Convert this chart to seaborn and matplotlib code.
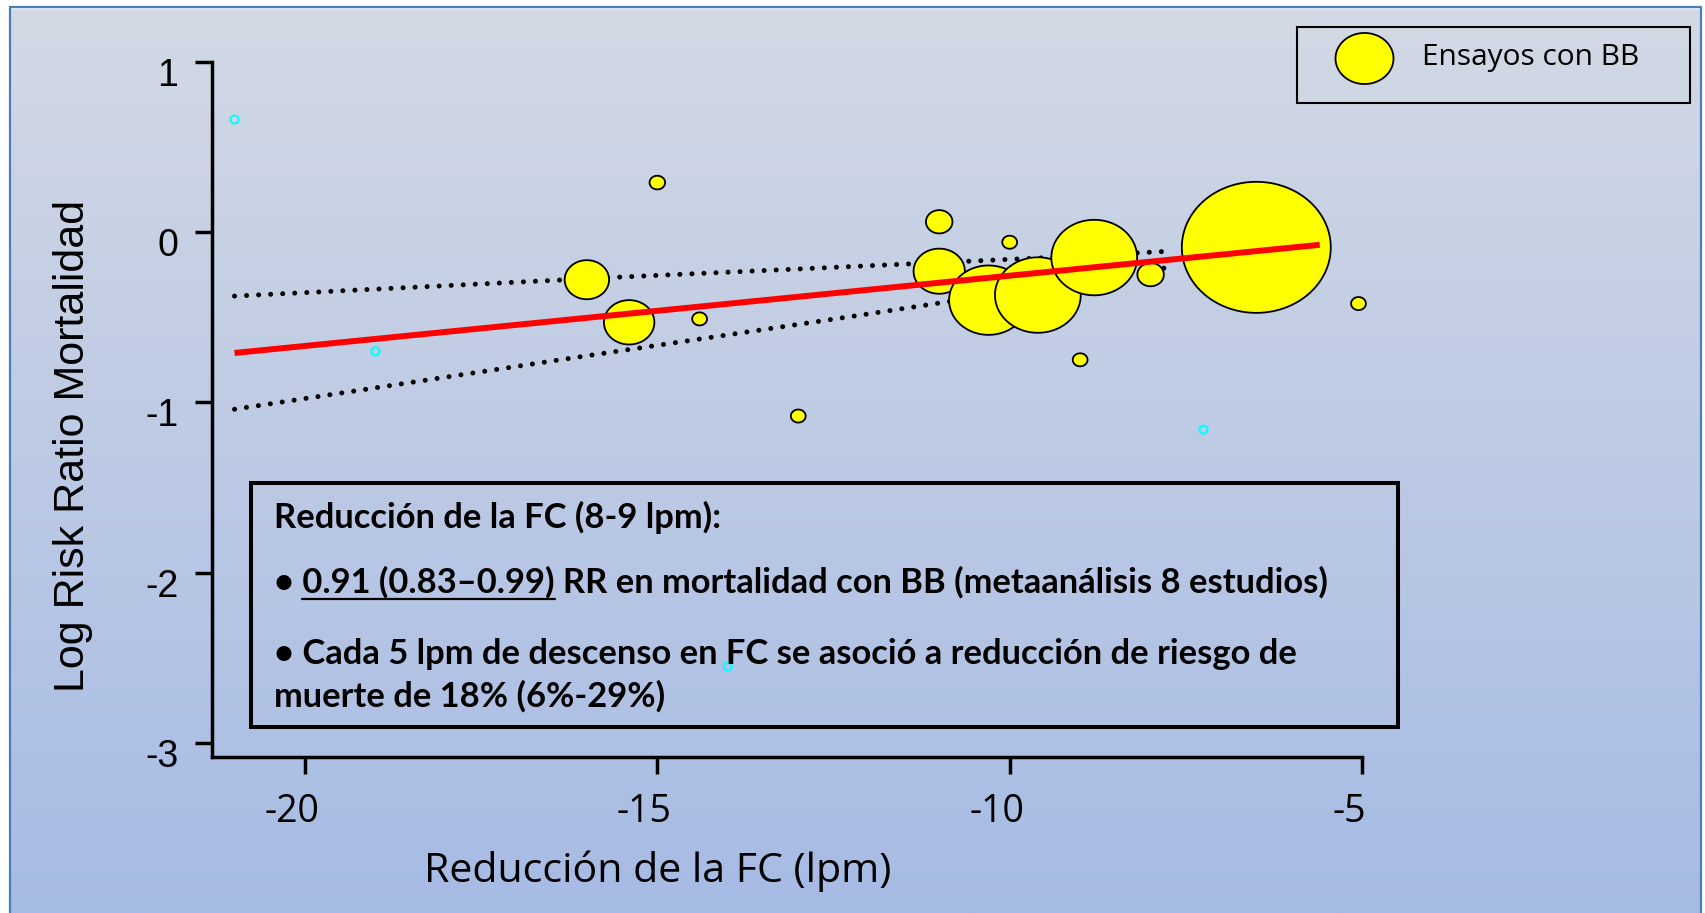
import numpy as np
import pandas as pd
import matplotlib
matplotlib.use("Agg")
import matplotlib.pyplot as plt
import seaborn as sns
from matplotlib.path import Path
from matplotlib.markers import MarkerStyle
from matplotlib.patches import Rectangle
from matplotlib.lines import Line2D
import matplotlib.transforms as mtransforms

# ---------------- data ----------------
reduccion_fc = [-16.0, -15.4, -15.0, -14.4, -13.0, -11.0, -11.0, -10.3, -10.0,
                -9.6, -9.0, -8.8, -8.0, -6.5, -5.05]
log_rr = [-0.28, -0.53, 0.29, -0.51, -1.08, 0.06, -0.23, -0.40, -0.06,
          -0.37, -0.75, -0.15, -0.25, -0.09, -0.42]
peso = [9.0, 11.6, 1.1, 1.0, 1.0, 3.2, 12.0, 28.4, 1.0,
        33.6, 1.0, 33.6, 3.2, 101.3, 1.0]

reg_x = [-21.0, -5.6]
reg_y = [-0.71, -0.075]

ic_sup_x = [-21.0, -15.5, -12.1, -9.6, -7.7]
ic_sup_y = [-0.376, -0.264, -0.200, -0.153, -0.112]
ic_inf_x = [-21.0, -16.3, -12.2, -11.0, -7.7]
ic_inf_y = [-1.04, -0.745, -0.493, -0.417, -0.205]

otros_x = [-21.0, -19.0, -14.0, -7.25]
otros_y = [0.66, -0.70, -2.55, -1.16]

xticks = [-20, -15, -10, -5]
xtick_labels = ["-20", "-15", "-10", "-5"]
yticks = [1, 0, -1, -2, -3]
ytick_labels = ["1", "0", "-1", "-2", "-3"]

x_label = "Reducción de la FC (lpm)"
y_label = "Log Risk Ratio Mortalidad"
legend_label = "Ensayos con BB"
box_lines = [
    "Reducción de la FC (8-9 lpm):",
    "• 0.91 (0.83–0.99) RR en mortalidad con BB (metaanálisis 8 estudios)",
    "• Cada 5 lpm de descenso en FC se asoció a reducción de riesgo de",
    "muerte de 18% (6%-29%)",
]
underlined = "0.91 (0.83–0.99)"

# ---------------- layout ----------------
W, H, DPI = 1706, 913, 100
sns.set_style("ticks")
plt.rcParams["font.family"] = ["Lato", "DejaVu Sans"]
plt.rcParams["axes.unicode_minus"] = False
ARIAL = ["Liberation Sans", "DejaVu Sans"]
OPEN = ["Open Sans", "DejaVu Sans"]

fig = plt.figure(figsize=(W / DPI, H / DPI), dpi=DPI)
fig.patch.set_facecolor("white")


def xpx(v):
    return 305 + (v + 20) * (1057 / 15)


def ypx(v):
    return 232 - v * 170.4


def fx(px):
    return px / W


def fy(py):
    return 1 - py / H


# background gradient + frame
bg = fig.add_axes([0, 0, 1, 1], zorder=-10)
bg.set_xlim(0, W)
bg.set_ylim(H, 0)
bg.axis("off")
top_c = np.array([211, 217, 229]) / 255
bot_c = np.array([166, 187, 228]) / 255
g = np.linspace(0, 1, 256)[:, None, None]
img = top_c[None, None, :] + (bot_c - top_c)[None, None, :] * g
bg.imshow(img, extent=(10, 1701, H, 7), aspect="auto", interpolation="bilinear")
frame_c = "#4a7ebb"
bg.plot([10, 10], [H, 7], color=frame_c, lw=1.6)
bg.plot([10, 1701], [7, 7], color=frame_c, lw=1.6)
bg.plot([1701, 1701], [7, H], color=frame_c, lw=1.6)
bg.plot([12, 1699], [9.5, 9.5], color="#e2e7f0", lw=1.2)

xlim = (-21.32, -3.5)
ylim = (-3.08, 1.2)
left = fx(xpx(xlim[0]))
right = fx(xpx(xlim[1]))
top = fy(ypx(ylim[1]))
bottom = fy(ypx(ylim[0]))
ax = fig.add_axes([left, bottom, right - left, top - bottom])
ax.set_facecolor("none")
ax.set_xlim(*xlim)
ax.set_ylim(*ylim)

# confidence band (dotted), under bubbles
dotted = (0, (0.01, 2.4))
sns.lineplot(x=ic_sup_x, y=ic_sup_y, color="black", linewidth=3.6,
             linestyle=dotted, dash_capstyle="round", zorder=2, ax=ax)
sns.lineplot(x=ic_inf_x, y=ic_inf_y, color="black", linewidth=3.6,
             linestyle=dotted, dash_capstyle="round", zorder=2, ax=ax)

# elliptical bubble marker
t = np.linspace(0, 2 * np.pi, 100)
ell_verts = np.column_stack([np.cos(t), 0.88 * np.sin(t)])
ell_codes = [Path.MOVETO] + [Path.LINETO] * 98 + [Path.CLOSEPOLY]
ellipse = MarkerStyle(Path(ell_verts, ell_codes))

df = pd.DataFrame({"reduccion_fc": reduccion_fc, "log_rr": log_rr, "peso": peso})
k = (14.8 * 72 / DPI) ** 2
wmax = max(peso)
sns.scatterplot(data=df, x="reduccion_fc", y="log_rr", size="peso",
                sizes=(0, k * wmax), size_norm=(0, wmax), marker=ellipse,
                color="#FFFF00", edgecolor="black", linewidth=1.3,
                legend=False, zorder=3, ax=ax, clip_on=False)

# regression line on top
sns.lineplot(x=reg_x, y=reg_y, color="#FF0000", linewidth=4.3,
             solid_capstyle="butt", zorder=4, ax=ax)

# small cyan markers
sns.scatterplot(x=otros_x, y=otros_y, s=34, color="#00FFFF", facecolor="none",
                edgecolor="#00FFFF", linewidth=1.5, zorder=5, ax=ax, legend=False)

# axes styling
ax.spines[["top", "right"]].set_visible(False)
for s in ["left", "bottom"]:
    ax.spines[s].set_linewidth(2.5)
    ax.spines[s].set_color("black")
ax.spines["left"].set_bounds(ylim[0], 1)
ax.spines["bottom"].set_bounds(xlim[0], -5)
ax.set_xticks(xticks, xtick_labels)
ax.set_yticks(yticks, ytick_labels)
ax.tick_params(axis="both", length=12.2, width=2.5, color="black",
               direction="out", labelcolor="black")
ax.tick_params(axis="y", labelsize=27, pad=12)
ax.tick_params(axis="x", labelsize=27, pad=14)
for lbl in ax.get_yticklabels():
    lbl.set_fontfamily(ARIAL)
    lbl.set_transform(lbl.get_transform() +
                      mtransforms.ScaledTranslation(0, -10 / DPI, fig.dpi_scale_trans))
for lbl in ax.get_xticklabels():
    lbl.set_fontfamily(OPEN)
    lbl.set_transform(lbl.get_transform() +
                      mtransforms.ScaledTranslation(-13 / DPI, 0, fig.dpi_scale_trans))

ax_w = xpx(xlim[1]) - xpx(xlim[0])
ax_h = ypx(ylim[0]) - ypx(ylim[1])
ax.set_xlabel(x_label, fontsize=29, color="black", fontfamily=OPEN)
ax.xaxis.set_label_coords((658 - xpx(xlim[0])) / ax_w, (ypx(ylim[0]) - 850) / ax_h)
ax.set_ylabel(y_label, fontsize=31, color="black", fontfamily=ARIAL)
ax.yaxis.label.set_va("center")
ax.yaxis.set_label_coords(-(xpx(xlim[0]) - 73) / ax_w, (ypx(ylim[0]) - 446) / ax_h)

# ---------------- annotation box ----------------
fig.add_artist(Rectangle((fx(251), fy(727)), fx(1398) - fx(251), fy(483) - fy(727),
                         transform=fig.transFigure, fill=False, edgecolor="black",
                         linewidth=2.9, zorder=6))
x0 = 274
baselines = [528, 593, 664, 707]
targets = [444, 1062, 1019, 384]
texts = []
for line, b in zip(box_lines, baselines):
    texts.append(fig.text(fx(x0), fy(b), line, fontsize=20, fontweight="bold",
                          va="baseline", ha="left", color="black", zorder=7))

# legend
fig.add_artist(Rectangle((fx(1297), fy(103)), fx(1690) - fx(1297), fy(27) - fy(103),
                         transform=fig.transFigure, fill=False, edgecolor="black",
                         linewidth=1.5, zorder=6))
fig.add_artist(Line2D([fx(1364)], [fy(58)], transform=fig.transFigure,
                      marker=ellipse, markersize=58 * 72 / DPI,
                      markerfacecolor="#FFFF00", markeredgecolor="black",
                      markeredgewidth=1.3, linestyle="none", zorder=7))
leg_txt = fig.text(fx(1422), fy(65), legend_label, fontsize=20, va="baseline",
                   ha="left", color="black", zorder=7, fontfamily=OPEN)

# fit text sizes to the reference widths
fig.canvas.draw()
r = fig.canvas.get_renderer()
ratios = [targets[i] / texts[i].get_window_extent(r).width for i in (1, 2)]
fs = 20 * float(np.mean(ratios))
for tx in texts:
    tx.set_fontsize(fs)
leg_txt.set_fontsize(20 * 217 / leg_txt.get_window_extent(r).width)
xl = ax.xaxis.label
xl.set_fontsize(0.5 * 29 + 0.5 * 29 * 479 / xl.get_window_extent(r).width)

# underline
fig.canvas.draw()
r = fig.canvas.get_renderer()
tmp1 = fig.text(0, 0, "• " + underlined, fontsize=fs, fontweight="bold")
tmp2 = fig.text(0, 0, underlined, fontsize=fs, fontweight="bold")
w1 = tmp1.get_window_extent(r).width
w2 = tmp2.get_window_extent(r).width
tmp1.remove()
tmp2.remove()
ux1 = x0 + w1
ux0 = ux1 - w2
uy = baselines[1] + 6
fig.add_artist(Line2D([fx(ux0), fx(ux1)], [fy(uy), fy(uy)], transform=fig.transFigure,
                      color="black", linewidth=1.6, zorder=7))

fig.savefig("out.png", dpi=DPI)
